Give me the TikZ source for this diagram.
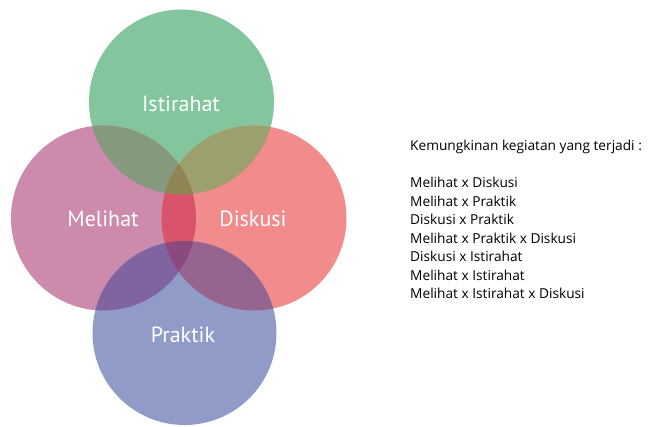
\documentclass[tikz,border=0pt]{standalone}
\usepackage{fontspec}
\setmainfont{PT Sans}
\newfontfamily\listfont{Open Sans}
\definecolor{cI}{HTML}{83C69D}
\definecolor{cM}{HTML}{CC8AAD}
\definecolor{cD}{HTML}{F28B8C}
\definecolor{cP}{HTML}{919BC8}
\definecolor{cIM}{HTML}{84997E}
\definecolor{cID}{HTML}{9BA06C}
\definecolor{cIMD}{HTML}{8E8552}
\definecolor{cMD}{HTML}{D9546B}
\definecolor{cMP}{HTML}{80649F}
\definecolor{cDP}{HTML}{96658F}
\definecolor{cMDP}{HTML}{8A4A7D}
\tikzset{
  lbl/.style={text=white,font=\fontsize{22}{24}\selectfont},
  item/.style={anchor=base west,inner sep=0pt,font=\listfont\fontsize{13.7}{15}\selectfont,text=black}
}
\newcommand{\cI}{(181.5,102) circle (92.5)}
\newcommand{\cM}{(103.5,218) circle (92.5)}
\newcommand{\cD}{(254,218) circle (92.5)}
\newcommand{\cP}{(184.5,333) circle (92)}
\begin{document}
\begin{tikzpicture}[x=1pt,y=-1pt]
\useasboundingbox (0,0) rectangle (648,426);
\fill[cI] \cI;
\fill[cM] \cM;
\fill[cD] \cD;
\fill[cP] \cP;
\begin{scope}\clip \cI; \fill[cIM] \cM; \end{scope}
\begin{scope}\clip \cI; \fill[cID] \cD; \end{scope}
\begin{scope}\clip \cM; \fill[cMD] \cD; \end{scope}
\begin{scope}\clip \cM; \fill[cMP] \cP; \end{scope}
\begin{scope}\clip \cD; \fill[cDP] \cP; \end{scope}
\begin{scope}\clip \cI; \clip \cM; \fill[cIMD] \cD; \end{scope}
\begin{scope}\clip \cM; \clip \cD; \fill[cMDP] \cP; \end{scope}
\node[lbl] (ist) at (181,104) {Istirahat};
\node[lbl] (mel) at (103,219) {Melihat};
\node[lbl] (dis) at (253,219) {Diskusi};
\node[lbl] (pra) at (183,335) {Praktik};
\node[item] (t0) at (410,150) {Kemungkinan kegiatan yang terjadi :};
\node[item] (t1) at (410,187.5) {Melihat x Diskusi};
\node[item] (t2) at (410,206) {Melihat x Praktik};
\node[item] (t3) at (410,224.5) {Diskusi x Praktik};
\node[item] (t4) at (410,243) {Melihat x Praktik x Diskusi};
\node[item] (t5) at (410,261.5) {Diskusi x Istirahat};
\node[item] (t6) at (410,280) {Melihat x Istirahat};
\node[item] (t7) at (410,298.5) {Melihat x Istirahat x Diskusi};
\end{tikzpicture}
\end{document}
